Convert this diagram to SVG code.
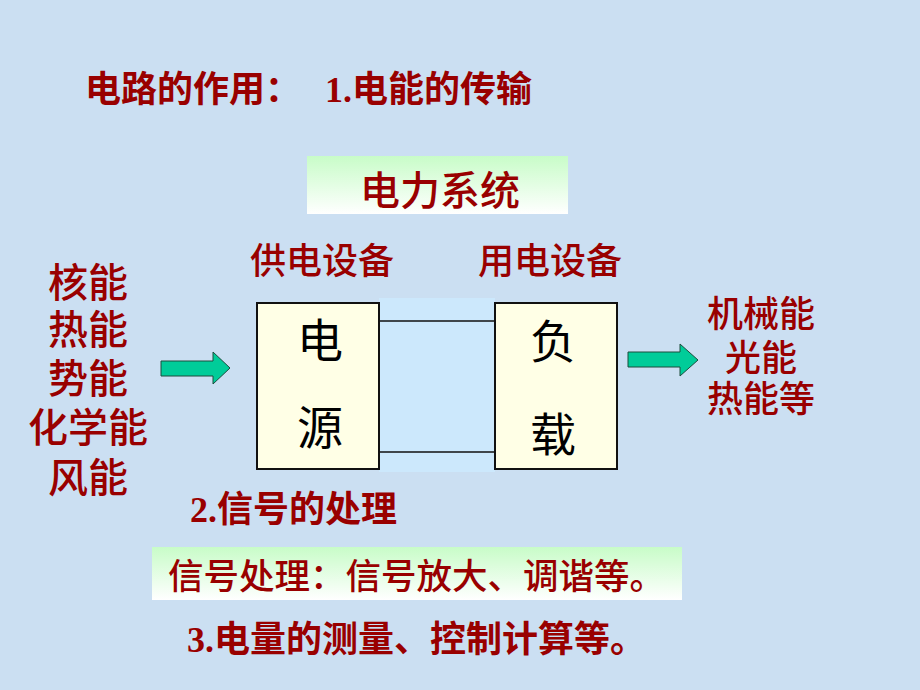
<svg xmlns="http://www.w3.org/2000/svg" width="920" height="690" viewBox="0 0 920 690">
  <defs>
    <linearGradient id="greenFade" x1="0" y1="0" x2="0" y2="1">
      <stop offset="0" stop-color="#c8fcc8"/>
      <stop offset="1" stop-color="#ffffff"/>
    </linearGradient>
    <style>
      .red { fill: #990000; font-family: "Liberation Serif", "Noto Sans CJK SC", sans-serif; font-weight: 500; }
      .b { font-weight: bold; }
      .blk { fill: #000; font-family: "Noto Sans CJK SC", sans-serif; font-size: 46px; text-anchor: middle; }
      .box { fill: #ffffe6; stroke: #111; stroke-width: 2; }
      .arrow { fill: #00cc99; stroke: #1d4d3d; stroke-width: 1; }
      .wire { stroke: #111; stroke-width: 1.5; fill: none; }
      .mid { text-anchor: middle; }
    </style>
  </defs>
  <rect width="920" height="690" fill="#cbdff2"/>

  <g id="title">
    <text class="red b" x="85" y="102" font-size="36">电路的作用：</text>
    <text class="red b" x="325" y="102" font-size="36">1.电能的传输</text>
  </g>

  <g id="power-system">
    <rect x="307" y="156" width="261" height="58" fill="url(#greenFade)"/>
    <text class="red mid" x="440" y="205" font-size="40">电力系统</text>
  </g>

  <g id="supply-label"><text class="red" x="250" y="274" font-size="36">供电设备</text></g>
  <g id="use-label"><text class="red" x="478" y="274" font-size="36">用电设备</text></g>

  <g id="energy-sources">
    <text class="red mid" x="88" y="297" font-size="40">核能</text>
    <text class="red mid" x="88" y="344" font-size="40">热能</text>
    <text class="red mid" x="88" y="393" font-size="40">势能</text>
    <text class="red mid" x="88" y="442" font-size="40">化学能</text>
    <text class="red mid" x="88" y="492" font-size="40">风能</text>
  </g>

  <g id="channel">
    <rect x="379" y="298" width="116" height="174" fill="#cce8fc"/>
  </g>

  <g id="connectors">
    <line class="wire" x1="379" y1="321" x2="495" y2="321"/>
    <line class="wire" x1="379" y1="452" x2="495" y2="452"/>
    <polygon class="arrow" points="161,361 213,361 213,352 230,368 213,384 213,376 161,376"/>
    <polygon class="arrow" points="628,352 680,352 680,344 698,360 680,376 680,367 628,367"/>
  </g>

  <g id="source">
    <rect class="box" x="257" y="303" width="122" height="166"/>
    <text class="blk" x="320" y="357">电</text>
    <text class="blk" x="320" y="444">源</text>
  </g>

  <g id="load">
    <rect class="box" x="495" y="303" width="122" height="166"/>
    <text class="blk" x="553" y="358">负</text>
    <text class="blk" x="553" y="451">载</text>
  </g>

  <g id="energy-outputs">
    <text class="red mid" x="761" y="327" font-size="36">机械能</text>
    <text class="red mid" x="761" y="371" font-size="36">光能</text>
    <text class="red mid" x="761" y="412" font-size="36">热能等</text>
  </g>

  <g id="signal-heading"><text class="red b" x="190" y="522" font-size="36">2.信号的处理</text></g>

  <g id="signal-box">
    <rect x="152" y="547" width="530" height="53" fill="url(#greenFade)"/>
    <text class="red" x="168" y="589" font-size="35.5">信号处理：信号放大、调谐等。</text>
  </g>

  <g id="measure-heading"><text class="red b" x="187" y="652" font-size="36">3.电量的测量、控制计算等。</text></g>
</svg>
